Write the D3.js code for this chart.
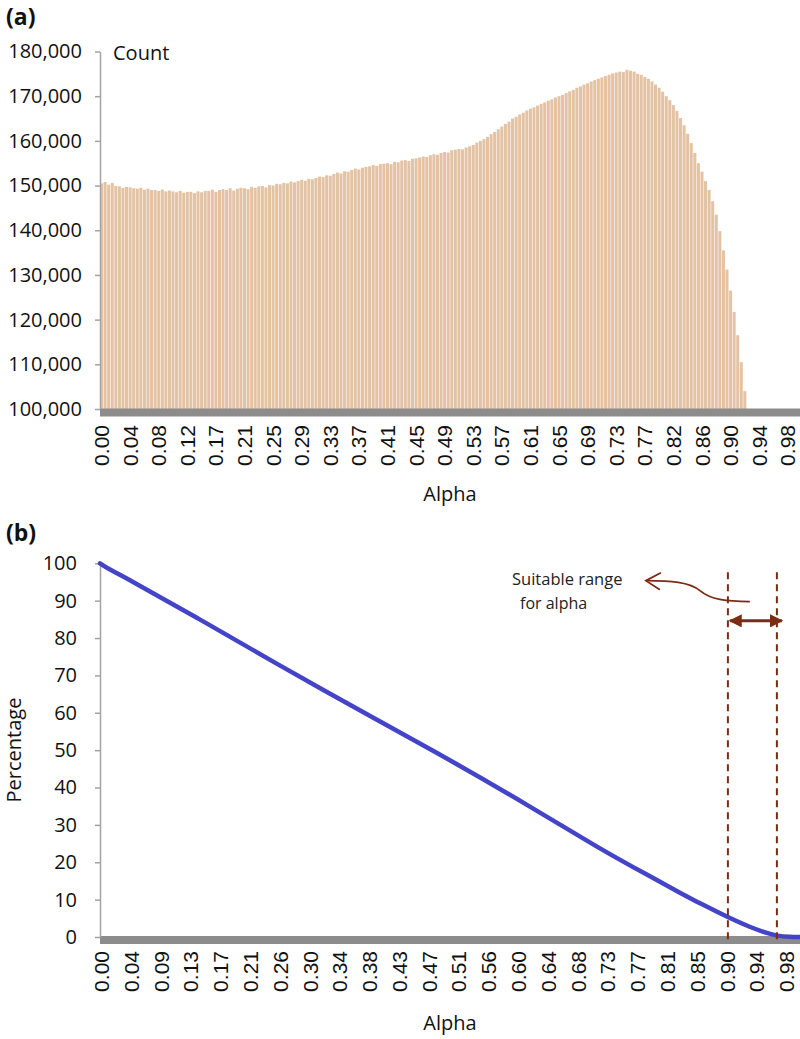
<!DOCTYPE html>
<html>
<head>
<meta charset="utf-8">
<script src="https://cdn.jsdelivr.net/npm/d3@7"></script>
<style>
  body { margin: 0; background: #fff; }
  svg { display: block; }
</style>
</head>
<body>
<svg id="fig" width="800" height="1039"></svg>
<script>
// ---- (a) histogram of alpha, 196 bins over 0..1 (counts)
const nBinsA = 196;
const countsA = [
  150500, 150800, 150200, 150600, 149900, 149800, 149500, 149700, 149600, 149400,
  149300, 149500, 149100, 149300, 149000, 149000, 148800, 149100, 148700, 148900,
  148700, 148500, 148800, 148400, 148600, 148600, 148300, 148700, 148500, 148800,
  148800, 149100, 148600, 149000, 149200, 149000, 149400, 148900, 149300, 149500,
  149400, 149200, 149700, 149500, 149800, 149900, 149600, 150100, 150000, 150400,
  150300, 150600, 150500, 150900, 150700, 151000, 151300, 151100, 151500, 151400,
  151700, 152000, 151900, 152300, 152200, 152600, 152900, 152700, 153200, 153100,
  153500, 153800, 153600, 154000, 154200, 154300, 154600, 154400, 154800, 154900,
  155000, 154800, 155300, 155200, 155600, 155700, 155500, 156000, 156100, 156300,
  156500, 156400, 156800, 157000, 156900, 157300, 157500, 157400, 157900, 158000,
  158200, 158100, 158500, 158800, 159100, 159600, 160000, 160400, 160900, 161500,
  162000, 162600, 163200, 163800, 164300, 165000, 165400, 165900, 166300, 166800,
  167200, 167500, 167900, 168300, 168600, 169000, 169300, 169700, 170000, 170300,
  170700, 171100, 171400, 171900, 172200, 172600, 172900, 173300, 173600, 173900,
  174200, 174500, 174800, 175100, 175300, 175500, 175400, 175900, 175700, 175500,
  175000, 174800, 174300, 173900, 173300, 172600, 171900, 171000, 170000, 169100,
  168000, 166700, 165100, 163500, 161600, 159500, 157300, 155000, 153100, 151000,
  149000, 146500, 143500, 139800, 135500, 131200, 126500, 121700, 116500, 110500,
  104000
];
const xLabelsA = ['0.00','0.04','0.08','0.12','0.17','0.21','0.25','0.29','0.33','0.37',
  '0.41','0.45','0.49','0.53','0.57','0.61','0.65','0.69','0.73','0.77','0.82','0.86',
  '0.90','0.94','0.98'];
const yTicksA = [100000, 110000, 120000, 130000, 140000, 150000, 160000, 170000, 180000];

// ---- (b) cumulative percentage vs alpha
const nBinsB = 235;
const alphaB = [0, 0.003, 0.014, 0.043, 0.143, 0.239, 0.4, 0.5, 0.614, 0.714, 0.786,
  0.829, 0.857, 0.9, 0.929, 0.953, 0.967, 0.986, 1.0];
const pctB = [100, 99.6, 98.3, 95.5, 85.0, 74.5, 57.6, 47.4, 35.0, 23.6, 16.2,
  11.8, 9.0, 5.0, 2.6, 1.0, 0.3, 0, 0];
const xLabelsB = ['0.00','0.04','0.09','0.13','0.17','0.21','0.26','0.30','0.34','0.38',
  '0.43','0.47','0.51','0.56','0.60','0.64','0.68','0.73','0.77','0.81','0.85','0.90',
  '0.94','0.98'];
const yTicksB = [0, 10, 20, 30, 40, 50, 60, 70, 80, 90, 100];
const rangeB = [0.897, 0.967]; // suitable range for alpha

const svg = d3.select('#fig');
const txtFont = '"Open Sans", sans-serif';
const tickFont = '"Liberation Sans", Arial, sans-serif';
const brown = '#7b2d14';

function styleY(g) {
  g.attr('font-family', txtFont).attr('font-size', 20);
  g.selectAll('text').attr('fill', '#111');
  g.select('.domain').attr('stroke', '#a3a3a3').attr('stroke-width', 1.5);
  g.selectAll('.tick line').attr('stroke', '#a3a3a3').attr('stroke-width', 1.5);
}
function styleX(g, off) {
  g.attr('font-family', tickFont).attr('font-size', 21);
  g.select('.domain').remove();
  g.selectAll('.tick line').remove();
  g.selectAll('text')
    .attr('transform', 'rotate(-90)')
    .attr('x', -off).attr('y', 0).attr('dy', '0.36em')
    .attr('text-anchor', 'end').attr('fill', '#111');
}

// ================= (a)
const xA = d3.scaleBand().domain(d3.range(nBinsA)).range([100, 800]).paddingInner(0.15);
const yA = d3.scaleLinear().domain([100000, 180000]).range([409, 51.5]);

svg.append('g').attr('id', 'barsA')
  .selectAll('rect').data(countsA).join('rect')
  .attr('x', (d, i) => xA(i))
  .attr('y', d => yA(d))
  .attr('width', xA.bandwidth())
  .attr('height', d => yA(100000) - yA(d))
  .attr('fill', '#e4c3a4');

svg.append('rect')
  .attr('x', 100).attr('y', yA(100000) - 0.5)
  .attr('width', 700).attr('height', 8)
  .attr('fill', '#8c8c8c');

svg.append('g')
  .attr('transform', 'translate(100,0)')
  .call(d3.axisLeft(yA).tickValues(yTicksA).tickSize(5).tickSizeOuter(0)
    .tickPadding(13).tickFormat(d3.format(',')))
  .call(styleY);

svg.append('g')
  .attr('transform', 'translate(0,' + (yA(100000) + 8) + ')')
  .call(d3.axisBottom(xA).tickValues(d3.range(0, nBinsA, 8))
    .tickFormat((d, i) => xLabelsA[i]))
  .call(g => styleX(g, 8));

svg.append('text').attr('x', 113).attr('y', 60)
  .attr('font-family', txtFont).attr('font-size', 20).attr('fill', '#111').text('Count');
svg.append('text').attr('x', 450).attr('y', 501).attr('text-anchor', 'middle')
  .attr('font-family', txtFont).attr('font-size', 20).attr('fill', '#111').text('Alpha');
svg.append('text').attr('x', 6).attr('y', 25)
  .attr('font-family', txtFont).attr('font-size', 23).attr('font-weight', 'bold')
  .attr('fill', '#111').text('(a)');

// ================= (b)
const xB = d3.scaleLinear().domain([0, 1]).range([100, 800]);
const xBandB = d3.scaleBand().domain(d3.range(nBinsB)).range([100, 800]);
const yB = d3.scaleLinear().domain([0, 100]).range([937, 563.3]);

svg.append('rect')
  .attr('x', 100).attr('y', yB(0) - 1)
  .attr('width', 700).attr('height', 8)
  .attr('fill', '#8c8c8c');

svg.append('g')
  .attr('transform', 'translate(100,0)')
  .call(d3.axisLeft(yB).tickValues(yTicksB).tickSize(5).tickSizeOuter(0).tickPadding(18))
  .call(styleY);

svg.append('g')
  .attr('transform', 'translate(0,' + (yB(0) + 7) + ')')
  .call(d3.axisBottom(xBandB).tickValues(d3.range(0, nBinsB, 10))
    .tickFormat((d, i) => xLabelsB[i]))
  .call(g => styleX(g, 7));

svg.append('path')
  .datum(alphaB.map((a, i) => [a, pctB[i]]))
  .attr('fill', 'none')
  .attr('stroke', '#4444c8')
  .attr('stroke-width', 4.5)
  .attr('stroke-linecap', 'round')
  .attr('d', d3.line().x(d => xB(d[0])).y(d => yB(d[1])).curve(d3.curveBasis));

// suitable range markers
svg.selectAll('line.rng').data(rangeB).join('line')
  .attr('class', 'rng')
  .attr('x1', d => xB(d)).attr('x2', d => xB(d))
  .attr('y1', yB(97.6)).attr('y2', yB(0) + 7)
  .attr('stroke', brown).attr('stroke-width', 2)
  .attr('stroke-dasharray', '7,5');

const defs = svg.append('defs');
defs.append('marker').attr('id', 'tri')
  .attr('viewBox', '0 0 10 10').attr('refX', 9).attr('refY', 5)
  .attr('markerWidth', 4.6).attr('markerHeight', 4.4)
  .attr('orient', 'auto-start-reverse')
  .append('path').attr('d', 'M0,0L10,5L0,10z').attr('fill', brown);

const ay = yB(84.6);
svg.append('line')
  .attr('x1', xB(rangeB[0]) + 2).attr('x2', xB(rangeB[1]) + 5)
  .attr('y1', ay).attr('y2', ay)
  .attr('stroke', brown).attr('stroke-width', 3)
  .attr('marker-start', 'url(#tri)').attr('marker-end', 'url(#tri)');

// curved pointer to the note
const px = xB(rangeB[0]), py = yB(90);
svg.append('path')
  .attr('d', `M${px + 22},${py + 1} C${px},${py + 0.5} ${px - 16},${py} ${px - 28},${py - 10}` +
    ` C${px - 38},${py - 19} ${px - 58},${py - 20} ${px - 82},${py - 20}`)
  .attr('fill', 'none').attr('stroke', brown).attr('stroke-width', 1.8);
svg.append('path')
  .attr('d', `M${px - 67},${py - 28} L${px - 82},${py - 20} L${px - 68},${py - 11}`)
  .attr('fill', 'none').attr('stroke', brown).attr('stroke-width', 1.8);

svg.append('text').attr('x', 512).attr('y', 585)
  .attr('font-family', txtFont).attr('font-size', 16.5).attr('fill', '#222').text('Suitable range');
svg.append('text').attr('x', 520).attr('y', 609)
  .attr('font-family', txtFont).attr('font-size', 16).attr('fill', '#222').text('for alpha');

svg.append('text')
  .attr('transform', 'translate(21,750) rotate(-90)')
  .attr('text-anchor', 'middle')
  .attr('font-family', txtFont).attr('font-size', 20).attr('fill', '#111').text('Percentage');
svg.append('text').attr('x', 450).attr('y', 1030).attr('text-anchor', 'middle')
  .attr('font-family', txtFont).attr('font-size', 20).attr('fill', '#111').text('Alpha');
svg.append('text').attr('x', 6).attr('y', 541)
  .attr('font-family', txtFont).attr('font-size', 23).attr('font-weight', 'bold')
  .attr('fill', '#111').text('(b)');
</script>
</body>
</html>
